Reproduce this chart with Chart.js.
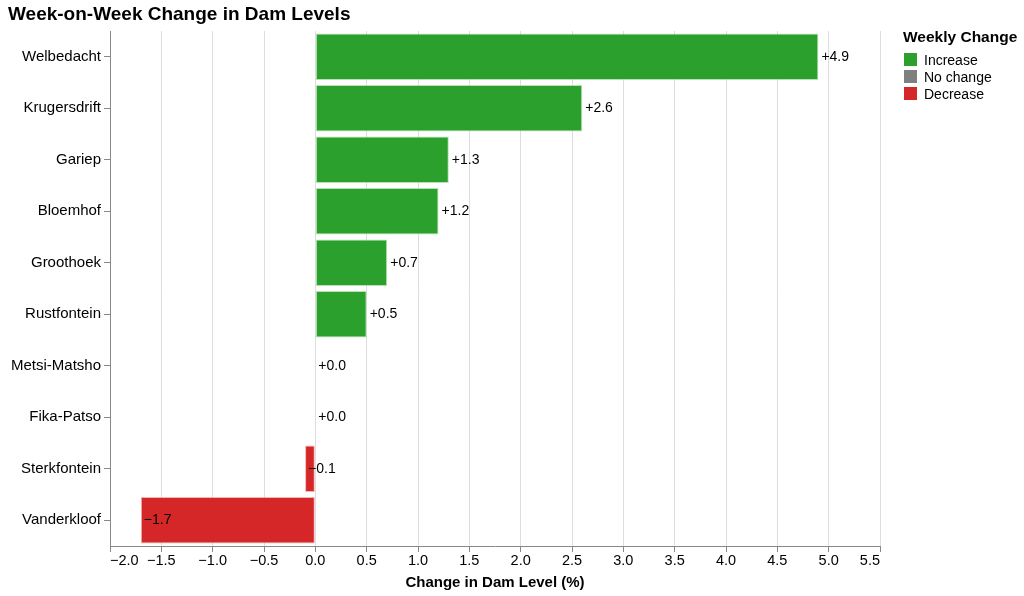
<!DOCTYPE html>
<html>
<head>
<meta charset="utf-8">
<script src="https://cdn.jsdelivr.net/npm/chart.js@4/dist/chart.umd.min.js"></script>
<style>
  html, body { margin: 0; padding: 0; background: #fff; }
  #wrap { position: relative; width: 1024px; height: 596px; font-family: "Liberation Sans", Arial, sans-serif; }
  #title { position: absolute; left: 8px; top: 3px; font-size: 19px; font-weight: bold; color: #000; }
  #legend { position: absolute; left: 903px; top: 28px; color: #000; }
  #legend .lt { font-size: 15.5px; font-weight: bold; margin-bottom: 5px; }
  #legend .row { display: flex; align-items: center; height: 17px; font-size: 14px; }
  #legend .sw { width: 13px; height: 13px; margin-right: 7px; margin-left: 1px; }
</style>
</head>
<body>
<div id="wrap">
  <canvas id="c" width="1024" height="596"></canvas>
  <div id="title">Week-on-Week Change in Dam Levels</div>
  <div id="legend">
    <div class="lt">Weekly Change</div>
    <div class="row"><span class="sw" style="background:#2ca02c"></span>Increase</div>
    <div class="row"><span class="sw" style="background:#7f7f7f"></span>No change</div>
    <div class="row"><span class="sw" style="background:#d62728"></span>Decrease</div>
  </div>
</div>
<script>
// dams, sorted by weekly change
const dams = ["Welbedacht", "Krugersdrift", "Gariep", "Bloemhof", "Groothoek",
  "Rustfontein", "Metsi-Matsho", "Fika-Patso", "Sterkfontein", "Vanderkloof"];
const changes = [4.9, 2.6, 1.3, 1.2, 0.7, 0.5, 0.0, 0.0, -0.1, -1.7];

const X_MIN = -2;
const X_MAX = 5.5;
const X_STEP = 0.5;

const GREEN = "#2ca02c";
const GREY = "#7f7f7f";
const RED = "#d62728";
const FONT = "'Liberation Sans', Arial, sans-serif";

function colourFor(v) {
  if (v > 0) return GREEN;
  if (v < 0) return RED;
  return GREY;
}

function edgeFor(v) {
  if (v > 0) return "rgba(150,215,150,0.7)";
  if (v < 0) return "rgba(240,150,150,0.7)";
  return "rgba(200,200,200,0.7)";
}

function fmtSigned(v) {
  const s = Math.abs(v).toFixed(1);
  return v < 0 ? "\u2212" + s : "+" + s;
}

function fmtTick(v) {
  const s = Math.abs(v).toFixed(1);
  return v < 0 ? "\u2212" + s : s;
}

// value labels just past the end of each bar
const barLabels = {
  id: "barLabels",
  afterDatasetsDraw(chart) {
    const ctx = chart.ctx;
    const meta = chart.getDatasetMeta(0);
    ctx.save();
    ctx.font = "14px " + FONT;
    ctx.fillStyle = "#000";
    ctx.textAlign = "left";
    ctx.textBaseline = "middle";
    meta.data.forEach((bar, i) => {
      ctx.fillText(fmtSigned(changes[i]), bar.x + 3, bar.y);
    });
    ctx.restore();
  }
};

new Chart(document.getElementById("c"), {
  type: "bar",
  data: {
    labels: dams,
    datasets: [{
      data: changes,
      backgroundColor: changes.map(colourFor),
      borderColor: changes.map(edgeFor),
      borderWidth: 1,
      borderSkipped: false,
      categoryPercentage: 1,
      barPercentage: 0.9
    }]
  },
  options: {
    indexAxis: "y",
    responsive: false,
    animation: false,
    layout: { padding: { left: 0, right: 144, top: 31, bottom: 0 } },
    plugins: {
      legend: { display: false },
      title: { display: false },
      tooltip: { enabled: false }
    },
    scales: {
      x: {
        type: "linear",
        min: X_MIN,
        max: X_MAX,
        afterFit(scale) { scale.height = 50; },
        afterBuildTicks(scale) {
          const t = [];
          for (let v = X_MIN; v <= X_MAX + 1e-9; v += X_STEP) t.push({ value: Math.round(v * 10) / 10 });
          scale.ticks = t;
        },
        ticks: {
          color: "#000",
          font: { family: FONT, size: 14.5 },
          padding: 0,
          align: "inner",
          maxRotation: 0,
          autoSkip: false,
          callback: (v) => fmtTick(v)
        },
        grid: { color: "#dddddd", tickColor: "#888888", tickLength: 6, lineWidth: 1 },
        border: { color: "#888888" },
        title: {
          display: true,
          text: "Change in Dam Level (%)",
          color: "#000",
          font: { family: FONT, size: 15, weight: "bold" },
          padding: { top: 0 }
        }
      },
      y: {
        type: "category",
        afterFit(scale) { scale.width = 110; },
        ticks: {
          color: "#000",
          font: { family: FONT, size: 15 },
          padding: 3
        },
        grid: { drawOnChartArea: false, offset: false, color: "#888888", tickLength: 6 },
        border: { color: "#888888" }
      }
    }
  },
  plugins: [barLabels]
});
</script>
</body>
</html>
